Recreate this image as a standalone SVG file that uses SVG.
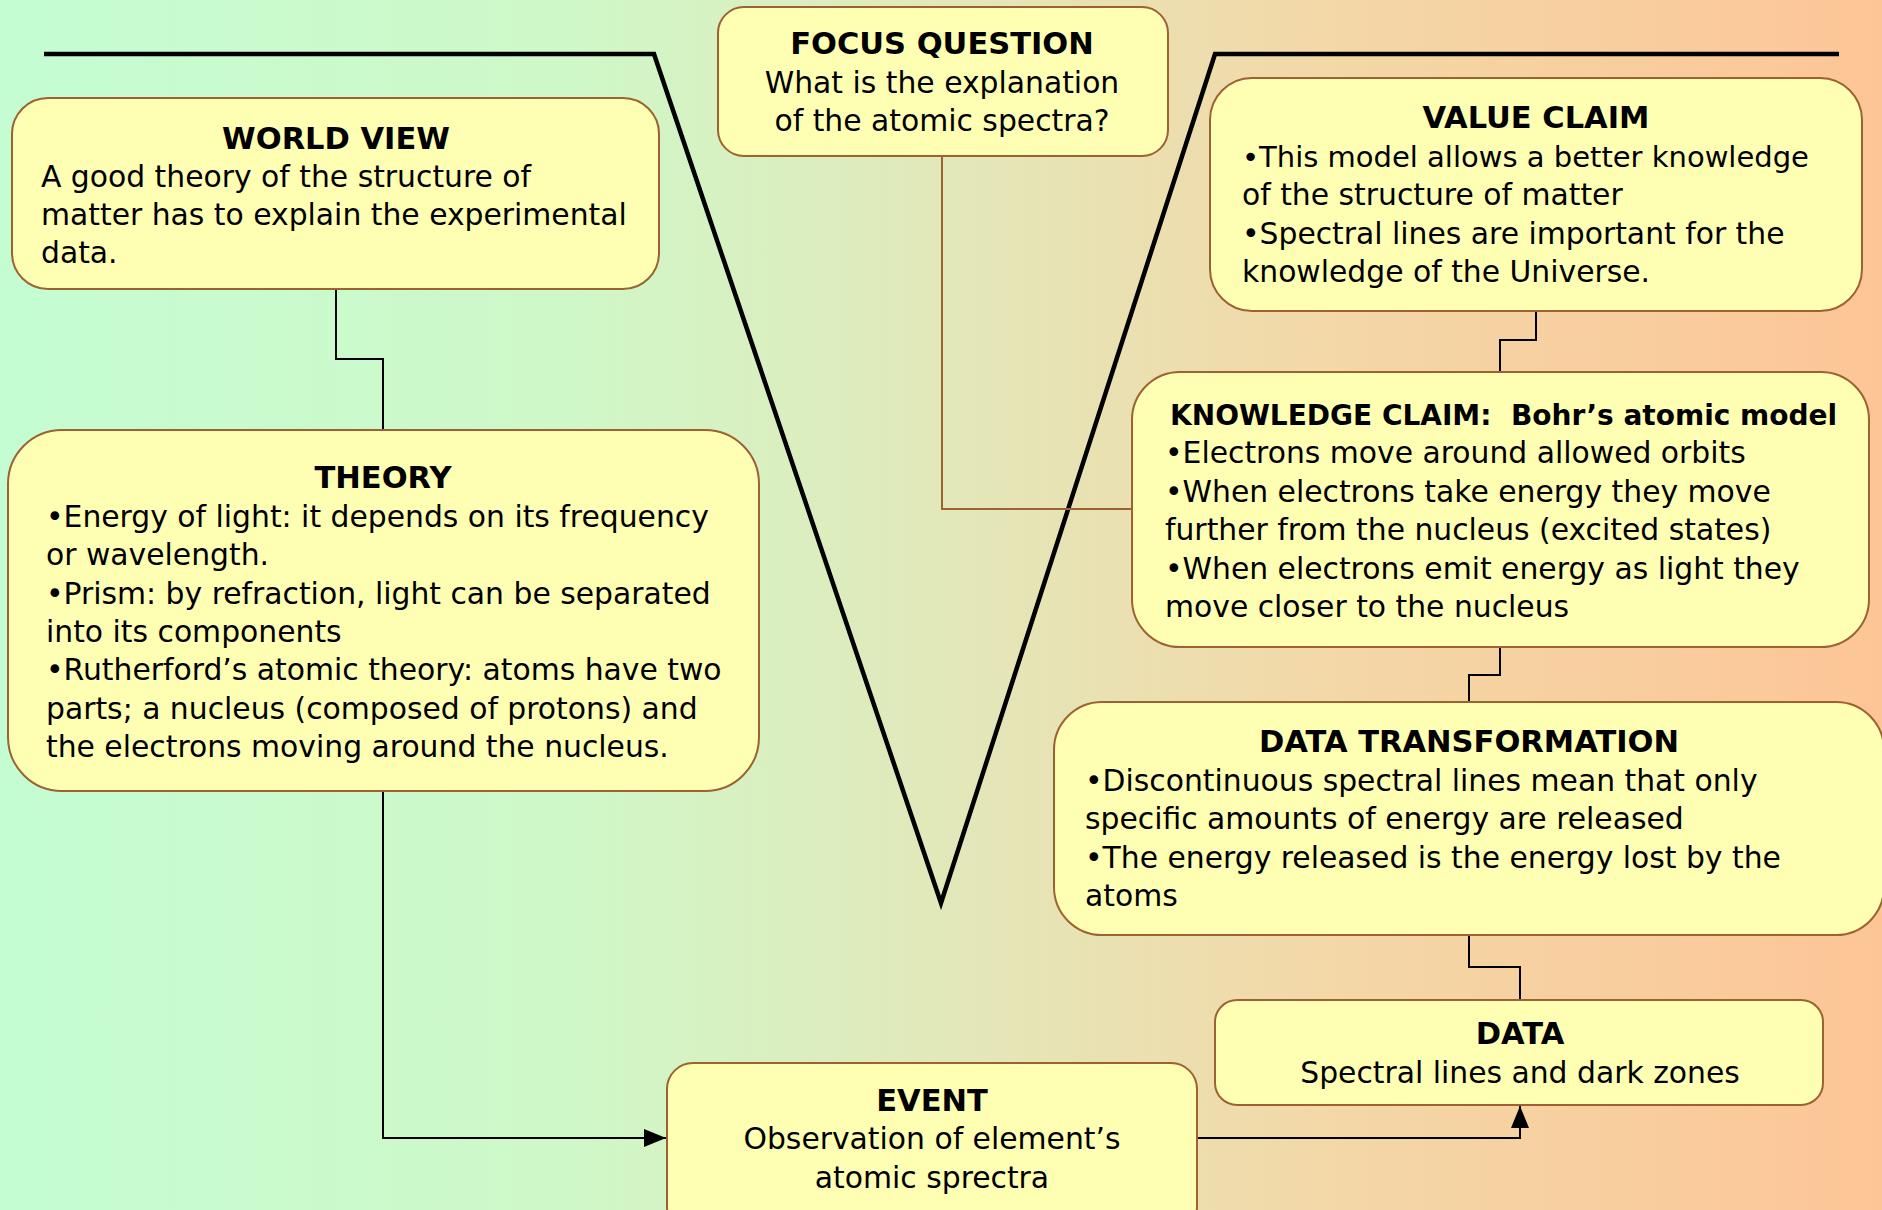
<svg xmlns="http://www.w3.org/2000/svg" width="1882" height="1210" viewBox="0 0 1882 1210">
<defs>
<linearGradient id="bg" x1="0" y1="0" x2="1" y2="0">
<stop offset="0" stop-color="#c4fdd2"/>
<stop offset="0.3" stop-color="#cff8c8"/>
<stop offset="0.5" stop-color="#e2e8ba"/>
<stop offset="0.7" stop-color="#f3d8a8"/>
<stop offset="1" stop-color="#fdc596"/>
</linearGradient>
<marker id="arrB" viewBox="0 0 10 10" refX="10" refY="5" markerWidth="22" markerHeight="18" markerUnits="userSpaceOnUse" orient="auto" preserveAspectRatio="none">
<path d="M0,0 L10,5 L0,10 z" fill="#000"/>
</marker>
</defs>
<style>
.box{fill:#ffffb4;stroke:#9c6232;stroke-width:2}
.t{font-family:"DejaVu Sans",sans-serif;font-size:29.8px;fill:#000}
.h{font-family:"DejaVu Sans",sans-serif;font-size:30.5px;font-weight:bold;fill:#000;text-anchor:middle}
.c{text-anchor:middle}
.con{fill:none;stroke:#000;stroke-width:2}
.conb{fill:none;stroke:#9c6232;stroke-width:2}
.v{fill:none;stroke:#000;stroke-width:4.5;stroke-linejoin:miter}
</style>
<rect x="0" y="0" width="1882" height="1210" fill="url(#bg)"/>
<path class="v" d="M44,54 L654,54 L941,903 L1215,54 L1839,54"/>
<g id="connectors">
<path class="con" d="M336,289 L336,359 L383,359 L383,430"/>
<path class="con" d="M383,791 L383,1138 L666,1138" marker-end="url(#arrB)"/>
<path class="conb" d="M942,156 L942,509 L1132,509"/>
<path class="con" d="M1536,311 L1536,340 L1500,340 L1500,372"/>
<path class="con" d="M1500,647 L1500,675 L1469,675 L1469,702"/>
<path class="con" d="M1469,935 L1469,967 L1520,967 L1520,1000"/>
<path class="con" d="M1197,1138 L1520,1138 L1520,1106" marker-end="url(#arrB)"/>
</g>
<g id="world-view">
<rect class="box" x="12" y="98" width="647" height="191" rx="36"/>
<text class="h" x="336" y="149">WORLD VIEW</text>
<text class="t" x="41" y="187">A good theory of the structure of</text>
<text class="t" x="41" y="225">matter has to explain the experimental</text>
<text class="t" x="41" y="263">data.</text>
</g>
<g id="theory">
<rect class="box" x="8" y="430" width="751" height="361" rx="54"/>
<text class="h" x="383" y="488">THEORY</text>
<text class="t" x="46" y="527">•Energy of light: it depends on its frequency</text>
<text class="t" x="46" y="565">or wavelength.</text>
<text class="t" x="46" y="604">•Prism: by refraction, light can be separated</text>
<text class="t" x="46" y="642">into its components</text>
<text class="t" x="46" y="680">•Rutherford’s atomic theory: atoms have two</text>
<text class="t" x="46" y="719">parts; a nucleus (composed of protons) and</text>
<text class="t" x="46" y="757">the electrons moving around the nucleus.</text>
</g>
<g id="focus-question">
<rect class="box" x="718" y="7" width="450" height="149" rx="26"/>
<text class="h" x="942" y="54">FOCUS QUESTION</text>
<text class="t c" x="942" y="93">What is the explanation</text>
<text class="t c" x="942" y="131">of the atomic spectra?</text>
</g>
<g id="value-claim">
<rect class="box" x="1210" y="78" width="652" height="233" rx="42"/>
<text class="h" x="1536" y="128">VALUE CLAIM</text>
<text class="t" x="1242" y="167" style="font-size:29px">•This model allows a better knowledge</text>
<text class="t" x="1242" y="205">of the structure of matter</text>
<text class="t" x="1242" y="244">•Spectral lines are important for the</text>
<text class="t" x="1242" y="282">knowledge of the Universe.</text>
</g>
<g id="knowledge-claim">
<rect class="box" x="1132" y="372" width="737" height="275" rx="48"/>
<text class="h" x="1170" y="425" style="text-anchor:start;font-size:28px">KNOWLEDGE CLAIM:&#160; Bohr’s atomic model</text>
<text class="t" x="1165" y="463">•Electrons move around allowed orbits</text>
<text class="t" x="1165" y="502">•When electrons take energy they move</text>
<text class="t" x="1165" y="540">further from the nucleus (excited states)</text>
<text class="t" x="1165" y="579">•When electrons emit energy as light they</text>
<text class="t" x="1165" y="617">move closer to the nucleus</text>
</g>
<g id="data-transformation">
<rect class="box" x="1054" y="702" width="830" height="233" rx="48"/>
<text class="h" x="1469" y="752">DATA TRANSFORMATION</text>
<text class="t" x="1085" y="791">•Discontinuous spectral lines mean that only</text>
<text class="t" x="1085" y="829">specific amounts of energy are released</text>
<text class="t" x="1085" y="868">•The energy released is the energy lost by the</text>
<text class="t" x="1085" y="906">atoms</text>
</g>
<g id="data">
<rect class="box" x="1215" y="1000" width="608" height="105" rx="22"/>
<text class="h" x="1520" y="1044">DATA</text>
<text class="t c" x="1520" y="1083">Spectral lines and dark zones</text>
</g>
<g id="event">
<rect class="box" x="667" y="1063" width="530" height="170" rx="26"/>
<text class="h" x="932" y="1111">EVENT</text>
<text class="t c" x="932" y="1149">Observation of element’s</text>
<text class="t c" x="932" y="1188">atomic sprectra</text>
</g>
</svg>
